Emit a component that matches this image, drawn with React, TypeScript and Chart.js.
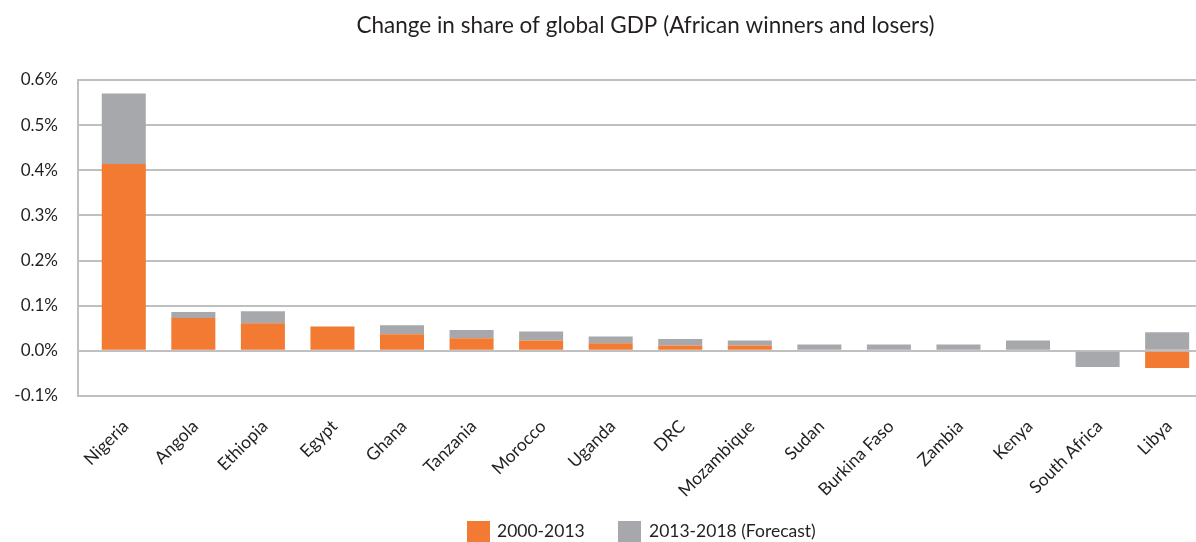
import React, { useEffect, useRef } from "react";
import { Chart, registerables } from "chart.js";

Chart.register(...registerables);

const categories = [
  "Nigeria", "Angola", "Ethiopia", "Egypt", "Ghana", "Tanzania", "Morocco", "Uganda",
  "DRC", "Mozambique", "Sudan", "Burkina Faso", "Zambia", "Kenya", "South Africa", "Libya",
];
// change in share of global GDP, percentage points
const period2000to2013 = [
  0.414, 0.073, 0.061, 0.054, 0.037, 0.028, 0.023, 0.017,
  0.012, 0.012, 0, 0, 0, 0, 0, -0.038,
];
const period2013to2018 = [
  0.156, 0.013, 0.027, 0, 0.02, 0.018, 0.02, 0.015,
  0.014, 0.011, 0.014, 0.014, 0.014, 0.023, -0.036, 0.041,
];
const seriesNames = ["2000-2013", "2013-2018 (Forecast)"];
const yTickValues = [-0.1, 0, 0.1, 0.2, 0.3, 0.4, 0.5, 0.6];
const chartTitle = "Change in share of global GDP (African winners and losers)";

const ORANGE = "#F27A32";
const GRAY = "#A7A8AB";
const TEXT = "#231F20";
const GRID = "#C0C0C2";
const FONT = "Lato";
const Y_TICK_LEN = 11;

const axisLinePlugin = {
  id: "axisLine",
  beforeDatasetsDraw(chart: any) {
    const { ctx, chartArea } = chart;
    const x = Math.round(chartArea.left - Y_TICK_LEN);
    ctx.save();
    ctx.strokeStyle = GRID;
    ctx.lineWidth = 2;
    ctx.beginPath();
    ctx.moveTo(x, chartArea.top - 1);
    ctx.lineTo(x, chartArea.bottom + 1);
    ctx.stroke();
    ctx.restore();
  },
};

export default function App() {
  const ref = useRef<HTMLCanvasElement | null>(null);

  useEffect(() => {
    if (!ref.current) return;
    const chart = new Chart(ref.current, {
      type: "bar",
      data: {
        labels: categories,
        datasets: [
          {
            label: seriesNames[0],
            data: period2000to2013,
            backgroundColor: ORANGE,
            borderWidth: 0,
            categoryPercentage: 1,
            barPercentage: 0.633,
          },
          {
            label: seriesNames[1],
            data: period2013to2018,
            backgroundColor: GRAY,
            borderWidth: 0,
            categoryPercentage: 1,
            barPercentage: 0.633,
          },
        ],
      },
      options: {
        responsive: false,
        animation: false,
        devicePixelRatio: 1,
        layout: { padding: { left: 0, right: 0, top: 0, bottom: 0 } },
        plugins: {
          legend: { display: false },
          tooltip: { enabled: false },
          title: {
            display: true,
            text: chartTitle,
            fullSize: false,
            color: TEXT,
            font: { family: FONT, size: 22.5, weight: "normal" },
            padding: { top: 12, bottom: 41 },
          },
        },
        scales: {
          x: {
            stacked: true,
            grid: { display: false, drawTicks: false },
            border: { display: false },
            ticks: {
              autoSkip: false,
              maxRotation: 45,
              minRotation: 45,
              padding: 20,
              labelOffset: 2,
              color: TEXT,
              font: { family: FONT, size: 17.5 },
            },
            afterFit: (s: any) => {
              s.height = 146;
            },
          },
          y: {
            stacked: true,
            min: -0.1,
            max: 0.6,
            afterBuildTicks: (s: any) => {
              s.ticks = yTickValues.map((v) => ({ value: v }));
            },
            afterFit: (s: any) => {
              s.width = 89;
            },
            grid: {
              color: GRID,
              lineWidth: 2,
              drawTicks: true,
              tickLength: Y_TICK_LEN,
            },
            border: { display: false },
            ticks: {
              padding: 20,
              color: TEXT,
              font: { family: FONT, size: 17 },
              callback: (v: any) => Number(v).toFixed(1) + "%",
            },
          },
        },
      },
      plugins: [axisLinePlugin],
    });
    return () => chart.destroy();
  }, []);

  const legendText: React.CSSProperties = {
    position: "absolute",
    top: 519,
    fontFamily: FONT,
    fontSize: 17.5,
    color: TEXT,
    lineHeight: "24px",
    whiteSpace: "nowrap",
  };
  const box = (left: number, color: string): React.CSSProperties => ({
    position: "absolute",
    left,
    top: 521,
    width: 23,
    height: 21,
    background: color,
  });

  return (
    <div
      style={{
        position: "absolute",
        left: 0,
        top: 0,
        width: 1196,
        height: 542,
        overflow: "hidden",
        background: "#fff",
      }}
    >
      <canvas ref={ref} width={1202} height={542} style={{ display: "block" }} />
      <div style={box(467, ORANGE)} />
      <div style={{ ...legendText, left: 497 }}>{seriesNames[0]}</div>
      <div style={box(618, GRAY)} />
      <div style={{ ...legendText, left: 649 }}>{seriesNames[1]}</div>
    </div>
  );
}
